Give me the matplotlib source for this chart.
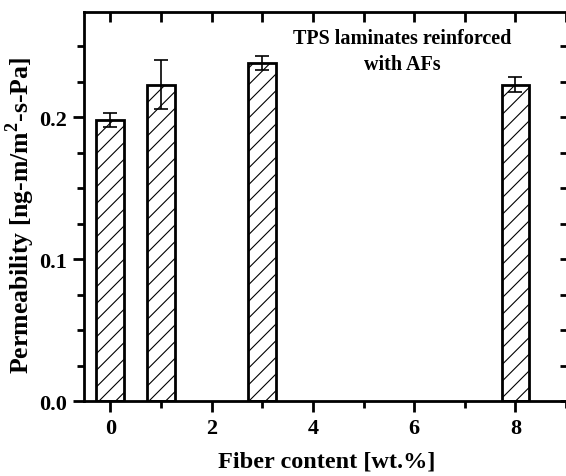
import numpy as np
import matplotlib.pyplot as plt
from matplotlib.ticker import MultipleLocator

# fiber content (wt.%) and permeability values
fiber = [0, 1, 3, 8]
perm = [0.198, 0.223, 0.238, 0.223]
perm_err = [0.005, 0.017, 0.005, 0.005]

plt.rcParams['font.family'] = ['Liberation Serif', 'DejaVu Serif']
plt.rcParams['font.weight'] = 'bold'
plt.rcParams['hatch.linewidth'] = 0.8
plt.rcParams['mathtext.fontset'] = 'custom'
plt.rcParams['mathtext.rm'] = 'Liberation Serif'
plt.rcParams['mathtext.bf'] = 'Liberation Serif:bold'

fig = plt.figure(figsize=(5.66, 4.77), dpi=100)
ax = fig.add_axes([0.1484, 0.157, 0.859, 0.8155])

ax.bar(fiber, perm, width=0.55, color='white', edgecolor='black',
       linewidth=2, hatch='//', zorder=2)
ax.errorbar(fiber, perm, yerr=perm_err, fmt='none', ecolor='black',
            elinewidth=1.2, capsize=5, capthick=1.2, zorder=3)

ax.set_xlim(-0.52, 9.08)
ax.set_ylim(0, 0.274)

ax.xaxis.set_major_locator(MultipleLocator(2))
ax.xaxis.set_minor_locator(MultipleLocator(1))
ax.yaxis.set_major_locator(MultipleLocator(0.1))
ax.yaxis.set_minor_locator(MultipleLocator(0.025))
ax.yaxis.set_major_formatter(plt.FormatStrFormatter('%.1f'))

ax.tick_params(which='major', direction='out', length=8, width=2,
               labelsize=16, pad=4)
ax.tick_params(which='minor', direction='out', length=5, width=2)
for s in ax.spines.values():
    s.set_linewidth(2)

# mirrored ticks on top and right, pointing inward
top = ax.secondary_xaxis('top')
top.xaxis.set_major_locator(MultipleLocator(2))
top.xaxis.set_minor_locator(MultipleLocator(1))
top.tick_params(which='both', direction='in', length=7, width=2, labeltop=False)
right = ax.secondary_yaxis('right')
right.yaxis.set_major_locator(MultipleLocator(0.1))
right.yaxis.set_minor_locator(MultipleLocator(0.025))
right.tick_params(which='both', direction='in', length=7, width=2, labelright=False)

ax.set_xlabel('Fiber content [wt.%]', fontsize=17.5, fontweight='bold')
ax.set_ylabel('Permeability [ng-m/m$^{2}$-s-Pa]', fontsize=18.5, fontweight='bold')
ax.xaxis.set_label_coords(0.5, -0.128)
ax.yaxis.set_label_coords(-0.097, 0.48)

ax.text(0.654, 0.96, 'TPS laminates reinforced\nwith AFs', transform=ax.transAxes,
        ha='center', va='top', fontsize=14.5, fontweight='bold', linespacing=1.45)

fig.savefig('out.png', dpi=100)
